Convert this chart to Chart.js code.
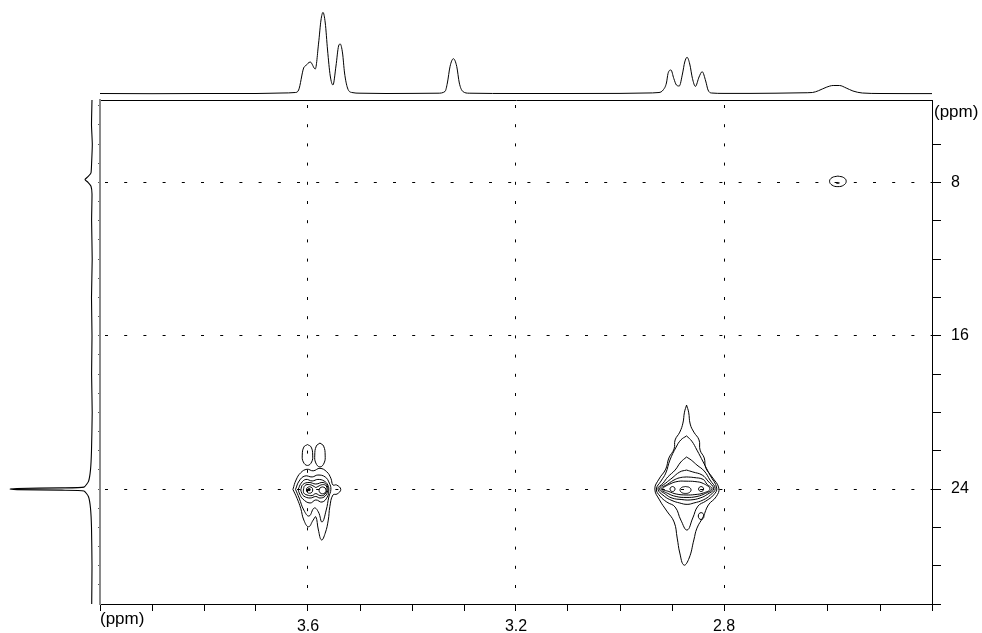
<!DOCTYPE html>
<html>
<head>
<meta charset="utf-8">
<script src="https://cdn.jsdelivr.net/npm/chart.js@4.4.1/dist/chart.umd.min.js"></script>
<style>
  html, body { margin: 0; padding: 0; background: #fff; }
  #wrap { position: relative; width: 982px; height: 633px; overflow: hidden; }
  canvas { position: absolute; }
</style>
</head>
<body>
<div id="wrap">
  <canvas id="topChart" width="832" height="100" style="left:100px;top:0"></canvas>
  <canvas id="sideChart" width="100" height="504" style="left:0;top:100px"></canvas>
  <canvas id="mainChart" width="982" height="633" style="left:0;top:0"></canvas>
</div>
<script>
// axes (1H on x, 13C on y, both in ppm)
const xTicks = [4.0, 3.9, 3.8, 3.7, 3.6, 3.5, 3.4, 3.3, 3.2, 3.1, 3.0, 2.9, 2.8, 2.7, 2.6, 2.5, 2.4];
const xLabels = [3.6, 3.2, 2.8];
const yTicks = [6, 8, 10, 12, 14, 16, 18, 20, 22, 24, 26, 28, 30];
const yLabels = [8, 16, 24];
const yMinorTicks = [4, 5, 6, 7, 8, 9, 10, 11, 12, 13, 14, 15, 16, 17, 18, 19, 20, 21, 22, 23, 24, 25, 26, 27, 28, 29];

// 1H projection on top
const topPpm = [4.00, 3.90, 3.80, 3.70, 3.65, 3.6244, 3.618, 3.6084, 3.605, 3.5956, 3.586, 3.5796, 3.575, 3.5712, 3.5668,
  3.5624, 3.5572, 3.552, 3.5462, 3.5412, 3.538, 3.5336, 3.5297, 3.524, 3.5155, 3.50, 3.45, 3.40, 3.35, 3.3364, 3.332,
  3.3268, 3.3204, 3.314, 3.309, 3.3024, 3.29, 3.20, 3.10, 3.00, 2.95, 2.925, 2.917, 2.9107, 2.9076, 2.902, 2.8966,
  2.8915, 2.886, 2.8799, 2.8755, 2.871, 2.8659, 2.8607, 2.855, 2.848, 2.842, 2.8352, 2.8307, 2.824, 2.80, 2.75, 2.70,
  2.65, 2.63, 2.6183, 2.6034, 2.59, 2.578, 2.565, 2.552, 2.534, 2.50, 2.45, 2.40];
const topInt = [0.5, 0.3, 0.5, 0.5, 1, 1.5, 4, 26, 28, 32, 25, 51, 74, 81.6, 71,
  44, 18, 9, 28, 48, 50, 41, 21, 6, 1.5, 0.8, 0.5, 0.6, 0.8, 2.6, 11,
  27.6, 35.3, 27.6, 11, 2.6, 0.8, 0.5, 0.5, 0.6, 1, 1.5, 4, 11, 20.6, 24, 15.6,
  9, 8, 20, 32, 36.7, 30, 15.6, 7.6, 17, 22.3, 13, 4, 1, 0.6, 0.6, 0.8,
  1.2, 1.5, 3.3, 6.7, 8.5, 8.5, 6, 3, 1, 0.5, 0.4, 0.4];

// 13C projection on the left
const sidePpm = [3.7, 5, 6, 7, 7.5, 7.7, 7.85, 8.0, 8.2, 8.6, 10, 12, 14, 16, 18, 20, 22, 23, 23.6, 23.9, 23.94, 23.97,
  24.0, 24.03, 24.06, 24.1, 24.4, 25, 26, 28, 30];
const sideInt = [0, 0.5, -0.3, 0.4, 1, 4, 7, 4, 1, 0, 0.4, -0.2, 0.5, 0, 0.4, -0.2, 0.5, 1.5, 3.5, 8, 30, 75,
  82, 75, 30, 8, 3.5, 1.5, 0.5, 0, 0.3];

// contours, cross peak near 3.59 / 24
const c1LobeA = [[3.601, 21.68], [3.594, 21.81], [3.591, 22.23], [3.593, 22.59], [3.601, 22.77], [3.609, 22.59], [3.611, 22.23], [3.608, 21.81]];
const c1LobeB = [[3.577, 21.60], [3.570, 21.76], [3.567, 22.23], [3.569, 22.64], [3.577, 22.85], [3.585, 22.64], [3.587, 22.23], [3.584, 21.76]];
const c1Outer = [[3.629, 24.02], [3.623, 23.53], [3.614, 23.15], [3.602, 22.97], [3.590, 23.05], [3.577, 22.92], [3.564, 23.10],
  [3.556, 23.44], [3.552, 23.79], [3.545, 23.79], [3.537, 24.02], [3.544, 24.26], [3.552, 24.31], [3.558, 24.92], [3.561, 25.62],
  [3.567, 26.31], [3.574, 26.66], [3.580, 26.14], [3.585, 25.45], [3.590, 25.62], [3.599, 25.97], [3.608, 25.62], [3.614, 25.01], [3.621, 24.49]];
const c1Ring1 = [[3.624, 24.02], [3.617, 23.58], [3.606, 23.32], [3.592, 23.37], [3.581, 23.27], [3.567, 23.37], [3.559, 23.69], [3.556, 24.02],
  [3.560, 24.42], [3.565, 25.10], [3.573, 25.72], [3.580, 25.20], [3.588, 24.99], [3.598, 25.41], [3.608, 25.10], [3.617, 24.47]];
const c1Ring2 = [[3.619, 24.03], [3.613, 23.69], [3.604, 23.50], [3.592, 23.58], [3.581, 23.50], [3.569, 23.58], [3.562, 23.79], [3.560, 24.05],
  [3.563, 24.42], [3.573, 24.68], [3.585, 24.57], [3.596, 24.73], [3.610, 24.52], [3.616, 24.26]];
const c1Ring3 = [[3.614, 24.05], [3.610, 23.77], [3.598, 23.66], [3.585, 23.74], [3.571, 23.66], [3.563, 23.84], [3.562, 24.08], [3.567, 24.37],
  [3.577, 24.47], [3.585, 24.39], [3.596, 24.47], [3.608, 24.37], [3.612, 24.21]];
const c1Ring4 = [[3.609, 24.05], [3.606, 23.82], [3.597, 23.77], [3.588, 23.87], [3.585, 23.92], [3.581, 23.87], [3.572, 23.77], [3.565, 23.84],
  [3.564, 24.08], [3.569, 24.31], [3.577, 24.34], [3.585, 24.24], [3.592, 24.34], [3.602, 24.31], [3.608, 24.21]];
const c1CoreL = [[3.597, 23.88], [3.5925, 23.93], [3.591, 24.05], [3.5925, 24.17], [3.597, 24.22], [3.6015, 24.17], [3.603, 24.05], [3.6015, 23.93]];
const c1CoreR = [[3.572, 23.89], [3.5673, 23.94], [3.5653, 24.07], [3.5673, 24.20], [3.572, 24.25], [3.5767, 24.20], [3.5787, 24.07], [3.5767, 23.94]];
const c1Dot = [[3.598, 24.03]];

// contours, cross peak near 2.87 / 24
const c2Outer = [[2.872, 19.62], [2.868, 19.99], [2.865, 20.61], [2.858, 21.03], [2.848, 21.44], [2.846, 21.97], [2.838, 22.38],
  [2.835, 22.90], [2.823, 23.37], [2.810, 23.95], [2.815, 24.40], [2.830, 24.83], [2.840, 25.45], [2.852, 26.04], [2.858, 26.66],
  [2.867, 27.60], [2.877, 27.97], [2.885, 27.34], [2.890, 26.56], [2.896, 25.72], [2.910, 25.15], [2.924, 24.57], [2.933, 24.00],
  [2.925, 23.48], [2.912, 22.96], [2.906, 22.38], [2.896, 21.91], [2.894, 21.44], [2.885, 21.03], [2.879, 20.56], [2.876, 19.99]];
const c2Ring1 = [[2.872, 21.23], [2.862, 21.50], [2.852, 21.97], [2.840, 22.59], [2.827, 23.27], [2.814, 23.95], [2.820, 24.31], [2.835, 24.63],
  [2.850, 24.89], [2.860, 25.51], [2.871, 26.14], [2.883, 25.62], [2.894, 24.94], [2.910, 24.68], [2.923, 24.37], [2.930, 24.00],
  [2.921, 23.58], [2.912, 23.17], [2.904, 22.49], [2.892, 21.81], [2.883, 21.44]];
const c2Ring2 = [[2.872, 22.33], [2.863, 22.49], [2.852, 22.75], [2.838, 23.06], [2.827, 23.53], [2.817, 23.98], [2.826, 24.31], [2.840, 24.57],
  [2.858, 24.73], [2.871, 24.80], [2.885, 24.73], [2.900, 24.60], [2.915, 24.37], [2.927, 24.00], [2.917, 23.69], [2.908, 23.37],
  [2.894, 23.01], [2.883, 22.59]];
const c2Ring3 = [[2.872, 23.01], [2.860, 23.11], [2.842, 23.27], [2.831, 23.58], [2.820, 23.99], [2.831, 24.26], [2.846, 24.47], [2.865, 24.57],
  [2.881, 24.55], [2.900, 24.47], [2.913, 24.26], [2.924, 23.99], [2.912, 23.69], [2.900, 23.43], [2.885, 23.11]];
const c2Ring4 = [[2.872, 23.37], [2.858, 23.40], [2.840, 23.50], [2.833, 23.74], [2.823, 24.00], [2.836, 24.23], [2.852, 24.39], [2.873, 24.44],
  [2.892, 24.39], [2.908, 24.23], [2.921, 24.00], [2.908, 23.74], [2.894, 23.50], [2.883, 23.40]];
const c2Ring5 = [[2.873, 23.59], [2.856, 23.61], [2.840, 23.71], [2.827, 24.00], [2.840, 24.21], [2.856, 24.29], [2.873, 24.31], [2.892, 24.26],
  [2.906, 24.13], [2.918, 24.00], [2.904, 23.74], [2.888, 23.60]];
const c2CoreC = [[2.874, 23.87], [2.8665, 23.92], [2.8634, 24.05], [2.8665, 24.18], [2.874, 24.23], [2.8815, 24.18], [2.8846, 24.05], [2.8815, 23.92]];
const c2CoreL = [[2.899, 23.87], [2.8956, 23.91], [2.8942, 24.0], [2.8956, 24.09], [2.899, 24.13], [2.9024, 24.09], [2.9038, 24.0], [2.9024, 23.91]];
const c2CoreR = [[2.844, 23.87], [2.8406, 23.91], [2.8392, 24.0], [2.8406, 24.09], [2.844, 24.13], [2.8474, 24.09], [2.8488, 24.0], [2.8474, 23.91]];
const c2Island = [[2.844, 25.23], [2.8402, 25.28], [2.8386, 25.41], [2.8402, 25.54], [2.844, 25.59], [2.8478, 25.54], [2.8494, 25.41], [2.8478, 25.28]];

// weak peak near 2.58 / 8
const c3Ring = [[2.581, 7.67], [2.5697, 7.75], [2.565, 7.94], [2.5697, 8.14], [2.581, 8.22], [2.5923, 8.14], [2.597, 7.94], [2.5923, 7.75]];
const c3Core = [[2.584, 8.03], [2.581, 8.06], [2.578, 8.03], [2.581, 8.0]];

const contours = [c1LobeA, c1LobeB, c1Outer, c1Ring1, c1Ring2, c1Ring3, c1Ring4, c1CoreL, c1CoreR,
  c2Outer, c2Ring1, c2Ring2, c2Ring3, c2Ring4, c2Ring5, c2CoreC, c2CoreL, c2CoreR, c2Island, c3Ring, c3Core];

const FONT = '"Liberation Sans", Arial, sans-serif';
const near = (v, list) => list.some(l => Math.abs(l - v) < 1e-6);

const bare = (xMin, xMax, xRev, yMin, yMax, yRev) => ({
  responsive: false,
  animation: false,
  events: [],
  layout: { padding: 0 },
  plugins: { legend: { display: false }, tooltip: { enabled: false } },
  scales: {
    x: { type: 'linear', display: false, min: xMin, max: xMax, reverse: xRev },
    y: { type: 'linear', display: false, min: yMin, max: yMax, reverse: yRev }
  }
});

// top 1H trace
new Chart(document.getElementById('topChart'), {
  type: 'line',
  data: {
    datasets: [{
      data: topPpm.map((p, i) => ({ x: p, y: topInt[i] })),
      borderColor: '#000',
      borderWidth: 1,
      pointRadius: 0,
      cubicInterpolationMode: 'monotone',
      fill: false
    }]
  },
  options: bare(2.4, 4.0, true, -6, 94, false)
});

// left 13C trace
new Chart(document.getElementById('sideChart'), {
  type: 'scatter',
  data: {
    datasets: [{
      data: sidePpm.map((p, i) => ({ x: sideInt[i], y: p })),
      showLine: true,
      borderColor: '#000',
      borderWidth: 1.1,
      pointRadius: 0,
      tension: 0.15,
      fill: false
    }]
  },
  options: bare(-8, 92, true, 3.7, 30, true)
});

// "(ppm)" captions
const ppmLabels = {
  id: 'ppmLabels',
  afterDraw(chart) {
    const { ctx, chartArea: a } = chart;
    ctx.save();
    ctx.font = '17px ' + FONT;
    ctx.fillStyle = '#000';
    ctx.textAlign = 'left';
    ctx.textBaseline = 'alphabetic';
    ctx.fillText('(ppm)', a.left, a.bottom + 20);
    ctx.fillText('(ppm)', a.right + 2, a.top + 17);
    ctx.restore();
  }
};

const contourSets = contours.map(c => ({
  data: c.concat([c[0]]).map(([x, y]) => ({ x, y })),
  showLine: true,
  borderColor: '#000',
  borderWidth: 1,
  pointRadius: 0,
  tension: 0.45,
  fill: false
}));
contourSets.push({
  data: c1Dot.map(([x, y]) => ({ x, y })),
  showLine: false,
  pointRadius: 1.6,
  pointBackgroundColor: '#000',
  pointBorderWidth: 0
});

new Chart(document.getElementById('mainChart'), {
  type: 'scatter',
  data: { datasets: contourSets },
  options: {
    responsive: false,
    animation: false,
    events: [],
    layout: { padding: { left: 100, top: 100, right: 0, bottom: 0 } },
    plugins: { legend: { display: false }, tooltip: { enabled: false } },
    scales: {
      x: {
        type: 'linear', position: 'bottom', min: 2.4, max: 4.0, reverse: true,
        afterBuildTicks: s => { s.ticks = xTicks.map(v => ({ value: v })); },
        afterFit: s => { s.height = 29; },
        // in v4 the grid dash lives under border
        border: { color: '#000', width: 1, dash: [3, 16.2], dashOffset: 14.2 },
        grid: {
          color: c => (c.tick && near(c.tick.value, xLabels)) ? '#000' : 'rgba(0,0,0,0)',
          tickBorderDash: [],
          tickColor: '#000',
          tickLength: 7
        },
        ticks: {
          autoSkip: false, maxRotation: 0, padding: 6, color: '#000',
          font: { family: FONT, size: 16 },
          callback: v => near(v, xLabels) ? v.toFixed(1) : ''
        }
      },
      xTop: {
        type: 'linear', position: 'top', min: 2.4, max: 4.0, reverse: true,
        afterFit: s => { s.height = 0; },
        border: { color: '#000', width: 1 },
        grid: { display: false },
        ticks: { display: false }
      },
      y: {
        type: 'linear', position: 'right', min: 3.7, max: 30, reverse: true,
        afterBuildTicks: s => { s.ticks = yTicks.map(v => ({ value: v })); },
        afterFit: s => { s.width = 50; },
        border: { color: '#000', width: 1, dash: [3, 16.2], dashOffset: 14.2 },
        grid: {
          color: c => (c.tick && near(c.tick.value, yLabels)) ? '#000' : 'rgba(0,0,0,0)',
          tickBorderDash: [],
          tickColor: '#000',
          tickLength: 9
        },
        ticks: {
          autoSkip: false, padding: 10, color: '#000',
          font: { family: FONT, size: 16 },
          callback: v => near(v, yLabels) ? String(v) : ''
        }
      },
      yLeft: {
        type: 'linear', position: 'left', min: 3.7, max: 30, reverse: true,
        afterBuildTicks: s => { s.ticks = yMinorTicks.map(v => ({ value: v })); },
        afterFit: s => { s.width = 0; },
        border: { color: '#8a8a8a', width: 2 },
        grid: { drawOnChartArea: false, tickColor: '#555', tickLength: 2 },
        ticks: { display: false }
      }
    }
  },
  plugins: [ppmLabels]
});
</script>
</body>
</html>
